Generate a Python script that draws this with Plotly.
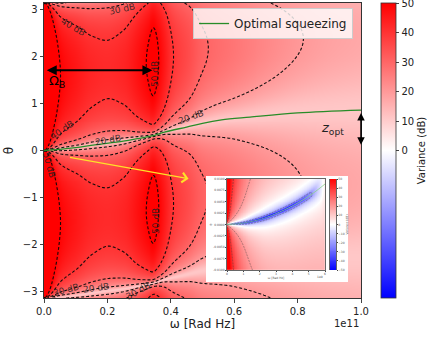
import numpy as np
import plotly.graph_objects as go

# ---------------- data ----------------
# peak (anti-squeezed) variance vs frequency, dB  (omega in units of 1e11 rad Hz)
omega_A = [0.004, 0.01, 0.02, 0.035, 0.052, 0.075, 0.1, 0.15, 0.2, 0.25, 0.3,
           0.327, 0.345, 0.362, 0.38, 0.405, 0.46, 0.5, 0.6, 0.7, 0.81, 0.9, 1.0]
A_db = [92, 76, 64, 55, 50, 47.5, 45.8, 42.8, 41.8, 43, 47.5,
        50.5, 52.5, 50, 46, 40.5, 35, 31, 27, 23.5, 20.2, 18.3, 17]
floor_db = 11.0
# optimal squeezing angle (green curve)
omega_opt = [0, 0.05, 0.1, 0.16, 0.25, 0.3, 0.34, 0.38, 0.45, 0.5, 0.56, 0.65, 0.8, 1.0]
theta_opt = [0, 0.025, 0.06, 0.12, 0.2, 0.26, 0.31, 0.39, 0.5, 0.58, 0.65, 0.71, 0.8, 0.86]
contour_levels = [20, 30, 40, 50]
x_ticks = [0.0, 0.2, 0.4, 0.6, 0.8, 1.0]
y_ticks = [-3, -2, -1, 0, 1, 2, 3]
cb_ticks = [0, 10, 20, 30, 40, 50]

# inset (zoom near the origin)
in_omega = [0.05, 0.1, 0.2, 0.4, 0.8, 1.5, 2.5, 3.5, 4.5, 5.5, 6.0]
in_anti_db = [110, 100, 90, 80, 70, 60, 54, 52, 51, 50, 49]
in_sq_db = [-35, -42, -47, -50, -52, -52, -50, -45, -35, -12, 3]
in_core = 0.0014
in_omega_opt = [0, 1, 2, 2.44, 3, 4.07, 5.28, 6.0]
in_theta_opt = [0, 0.0003, 0.0011, 0.0016, 0.0024, 0.0042, 0.0069, 0.0089]
in_levels = [-20, 20, 40]
in_yticks = [-0.01, -0.0075, -0.005, -0.0025, 0.0, 0.0025, 0.005, 0.0075, 0.01]


def pchip(xk, yk, x):
    xk = np.asarray(xk, float); yk = np.asarray(yk, float)
    x = np.clip(np.asarray(x, float), xk[0], xk[-1])
    h = np.diff(xk); d = np.diff(yk) / h
    m = np.zeros_like(yk)
    m[0], m[-1] = d[0], d[-1]
    for k in range(1, len(xk) - 1):
        if d[k - 1] * d[k] <= 0:
            m[k] = 0
        else:
            w1 = 2 * h[k] + h[k - 1]; w2 = h[k] + 2 * h[k - 1]
            m[k] = (w1 + w2) / (w1 / d[k - 1] + w2 / d[k])
    i = np.clip(np.searchsorted(xk, x) - 1, 0, len(xk) - 2)
    t = (x - xk[i]) / h[i]
    h00 = 2 * t**3 - 3 * t**2 + 1; h10 = t**3 - 2 * t**2 + t
    h01 = -2 * t**3 + 3 * t**2; h11 = t**3 - t**2
    return h00 * yk[i] + h10 * h[i] * m[i] + h01 * yk[i + 1] + h11 * h[i] * m[i + 1]


bwr = [[0, 'rgb(0,0,255)'], [0.5, 'rgb(255,255,255)'], [1, 'rgb(255,0,0)']]

# main field
w = np.linspace(0, 1, 321)
th = np.linspace(-np.pi, np.pi, 301)
A = 10 ** (pchip(omega_A, A_db, w) / 10)
phi = pchip(omega_opt, theta_opt, w)
dd = th[:, None] - phi[None, :]
S = A[None, :] * np.sin(dd) ** 2 + 10 ** (floor_db / 10) * np.cos(dd) ** 2
V = np.round(10 * np.log10(S), 2)

# inset field
wi = np.linspace(0, 6, 241)
ti = np.linspace(-0.01, 0.01, 281)
Ai = 10 ** (pchip(in_omega, in_anti_db, wi) / 10)
Bi = 10 ** (pchip(in_omega, in_sq_db, wi) / 10)
phii = pchip(in_omega_opt, in_theta_opt, wi)
di = ti[:, None] - phii[None, :]
s2 = np.sin(di) ** 2
Si = Ai[None, :] * s2 * s2 / (s2 + in_core ** 2) + Bi[None, :] * np.cos(di) ** 2
Vi = np.round(10 * np.log10(Si), 2)

fig = go.Figure()
fig.add_trace(go.Heatmap(x=w, y=th, z=V, colorscale=bwr, zmin=-50, zmax=50,
                         colorbar=dict(x=(381 - 44) / 317.0, xanchor='left', xpad=0, ypad=0,
                                       thickness=15, len=1, y=0.5, yanchor='middle',
                                       tickvals=cb_ticks, ticklabeloverflow='allow',
                                       ticks='outside',
                                       ticklen=3.5, outlinecolor='#333', outlinewidth=0.8,
                                       tickfont=dict(size=10, color='#222'),
                                       title=dict(text='Variance (dB)', side='right',
                                                  font=dict(size=10, color='#222')))))
fig.add_trace(go.Contour(x=w, y=th, z=V, showscale=False, hoverinfo='skip',
                         contours=dict(start=contour_levels[0], end=contour_levels[-1],
                                       size=10, coloring='none'),
                         line=dict(color='rgba(10,10,10,0.95)', width=1.1, dash='3px,2px')))
fig.add_trace(go.Scatter(x=omega_opt, y=theta_opt, mode='lines', line_shape='spline',
                         line=dict(color='rgb(40,140,40)', width=1.3), name='Optimal squeezing'))

# inset: white panel
fig.add_trace(go.Scatter(x=[0, 1, 1, 0, 0], y=[0, 0, 1, 1, 0], fill='toself', fillcolor='white',
                         line=dict(width=0), mode='lines', xaxis='x2', yaxis='y2',
                         showlegend=False, hoverinfo='skip'))
fig.add_trace(go.Heatmap(x=wi, y=ti, z=Vi, colorscale=bwr, zmin=-50, zmax=50, showscale=False,
                         xaxis='x3', yaxis='y3'))
for lev in in_levels:
    fig.add_trace(go.Contour(x=wi, y=ti, z=Vi, showscale=False, xaxis='x3', yaxis='y3',
                             contours=dict(start=lev, end=lev, size=1, coloring='none'),
                             line=dict(color='rgba(60,60,60,0.7)', width=0.6, dash='2px,1px')))
fig.add_trace(go.Scatter(x=in_omega_opt, y=in_theta_opt, mode='lines', line_shape='spline',
                         line=dict(color='rgb(140,210,140)', width=0.8), xaxis='x3', yaxis='y3',
                         showlegend=False))
cbv = np.linspace(-50, 50, 101)
fig.add_trace(go.Heatmap(x=[0, 1], y=cbv, z=np.column_stack([cbv, cbv]), colorscale=bwr,
                         zmin=-50, zmax=50, showscale=False, xaxis='x4', yaxis='y4'))

def px_x(p):
    return (p - 44) / 317.0

def py_y(p):
    return (298 - p) / 295.0

tiny = dict(size=3, color='#555')
fig.update_layout(
    width=427, height=343, margin=dict(l=44, r=66, t=3, b=45, autoexpand=False),
    paper_bgcolor='white', plot_bgcolor='white',
    font=dict(family='DejaVu Sans', color='#222'),
    xaxis=dict(range=[0, 1], tickvals=x_ticks, ticktext=['%.1f' % v for v in x_ticks],
               ticks='outside', ticklen=3.5, showline=True, mirror=True, linecolor='#333',
               showgrid=False, zeroline=False, tickfont=dict(size=10),
               title=dict(text='ω [Rad Hz]', font=dict(size=12), standoff=4)),
    yaxis=dict(range=[-np.pi, np.pi], tickvals=y_ticks, ticks='outside', ticklen=3.5,
               showline=True, mirror=True, linecolor='#333', showgrid=False, zeroline=False,
               tickfont=dict(size=10), title=dict(text='θ', font=dict(size=12), standoff=6)),
    xaxis2=dict(domain=[px_x(206), px_x(348)], range=[0, 1], visible=False),
    yaxis2=dict(domain=[py_y(282), py_y(176)], range=[0, 1], visible=False),
    xaxis3=dict(domain=[px_x(227), px_x(325)], range=[0, 6], tickvals=[0, 1, 2, 3, 4, 5, 6],
                ticks='outside', ticklen=1, showline=True, mirror=True, linecolor='#666',
                linewidth=0.5, showgrid=False, zeroline=False, tickfont=tiny, anchor='y3',
                title=dict(text='ω [Rad Hz]', font=tiny, standoff=1)),
    yaxis3=dict(domain=[py_y(270), py_y(179)], range=[-0.01, 0.01], tickvals=in_yticks,
                ticktext=['%.4f' % v for v in in_yticks], ticks='outside', ticklen=1,
                showline=True, mirror=True, linecolor='#666', linewidth=0.5, showgrid=False,
                zeroline=False, tickfont=tiny, anchor='x3',
                title=dict(text='θ', font=tiny, standoff=1)),
    xaxis4=dict(domain=[px_x(330), px_x(336)], range=[-0.5, 1.5], visible=False, anchor='y4'),
    yaxis4=dict(domain=[py_y(270), py_y(179)], range=[-50, 50], side='right', anchor='x4',
                tickvals=[-50, -40, -30, -20, -10, 0, 10, 20, 30, 40, 50], ticks='outside',
                ticklen=1, tickfont=tiny, showline=True, mirror=True, linecolor='#666',
                linewidth=0.5, showgrid=False, zeroline=False,
                title=dict(text='Variance (dB)', font=tiny, standoff=1)),
    legend=dict(x=0.975, xanchor='right', y=0.983, yanchor='top', bgcolor='rgba(255,255,255,0.8)',
                bordercolor='#ccc', borderwidth=1, font=dict(size=12, color='#222'),
                itemwidth=30, tracegroupgap=0),
    showlegend=True,
)
for tr in fig.data:
    if tr.name != 'Optimal squeezing':
        tr.showlegend = False

ann = []
labels = [("40 dB", 73, 27, 30), ("30 dB", 122, 9, -12), ("50 dB", 155, 74, -90),
          ("40 dB", 62, 130, -35), ("20 dB", 108, 140, -10), ("20 dB", 191, 117, -20),
          ("50 dB", 156, 221, -90), ("50 dB", 49, 165, 75), ("30 dB", 66, 290, -15),
          ("20 dB", 96, 288, -8), ("30 dB", 138, 291, -30)]
for t, px, py, ang in labels:
    ann.append(dict(x=(px - 44) / 317.0, y=(150.5 - py) / 47.0, xref='x', yref='y', text=t,
                    showarrow=False, textangle=ang,
                    font=dict(size=9, color='rgba(30,30,30,0.85)')))
ann.append(dict(x=0.342, y=1.71, ax=0.004, ay=1.71, xref='x', yref='y', axref='x', ayref='y',
                text='', showarrow=True, arrowhead=2, startarrowhead=2, arrowside='end+start',
                arrowwidth=2, arrowsize=1, startarrowsize=1, arrowcolor='black'))
ann.append(dict(x=0.04, y=1.47, xref='x', yref='y', text='Ω<sub>B</sub>', showarrow=False,
                font=dict(size=13, color='black')))
ann.append(dict(x=1.0, y=0.12, ax=1.0, ay=0.83, xref='x', yref='y', axref='x', ayref='y',
                text='', showarrow=True, arrowhead=2, startarrowhead=2, arrowside='end+start',
                arrowwidth=1.5, arrowsize=1, startarrowsize=1, arrowcolor='black'))
ann.append(dict(x=0.91, y=0.47, xref='x', yref='y', text='<i>z</i><sub>opt</sub>',
                showarrow=False, font=dict(size=13, color='#222')))
ann.append(dict(x=0.456, y=-0.6, ax=0.077, ay=-0.14, xref='x', yref='y', axref='x', ayref='y',
                text='', showarrow=True, arrowhead=4, arrowwidth=1.2, arrowsize=1.6,
                arrowcolor='rgb(255,225,40)'))
ann.append(dict(x=1.0, y=-0.06, xref='paper', yref='paper', text='1e11', showarrow=False,
                xanchor='right', yanchor='top', font=dict(size=10, color='#222')))
ann.append(dict(x=px_x(325), y=py_y(273), xref='paper', yref='paper', text='1e9',
                showarrow=False, xanchor='right', yanchor='top', font=tiny))
fig.update_layout(annotations=ann)

fig.write_html("out.html")
